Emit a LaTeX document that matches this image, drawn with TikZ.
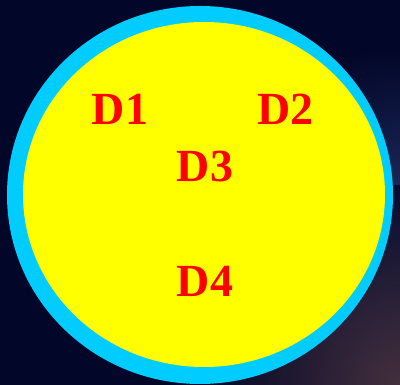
\documentclass[tikz,border=0pt]{standalone}
\usepackage{fontspec}
\setmainfont{Liberation Serif}
\definecolor{bgnavy}{RGB}{2,6,40}
\definecolor{bgwarm}{RGB}{80,55,65}
\definecolor{bgblue}{RGB}{30,45,95}
\definecolor{ringcyan}{RGB}{0,204,255}
\definecolor{discyellow}{RGB}{255,255,0}
\definecolor{labelred}{RGB}{255,0,0}
\tikzset{
  lbl/.style={text=labelred, font=\bfseries\fontsize{46pt}{46pt}\selectfont, inner sep=0pt, anchor=base}
}
\begin{document}
\begin{tikzpicture}[x=1pt,y=1pt]
\useasboundingbox (0,0) rectangle (400,385);
\fill[bgnavy] (0,0) rectangle (400,385);
\begin{scope}
  \clip (0,0) rectangle (400,385);
  \shade[inner color=bgblue, outer color=bgnavy] (400,170) circle (170);
  \shade[inner color=bgwarm, outer color=bgnavy, opacity=0.85] (400,0) circle (200);
\end{scope}
\fill[ringcyan] (200,190) ellipse [x radius=193, y radius=189];
\fill[discyellow] (204,190.5) ellipse [x radius=181, y radius=172.5];
\node[lbl] (d1) at (120,260) {D1};
\node[lbl] (d2) at (285.5,260) {D2};
\node[lbl] (d3) at (205,203) {D3};
\node[lbl] (d4) at (205,88) {D4};
\end{tikzpicture}
\end{document}
